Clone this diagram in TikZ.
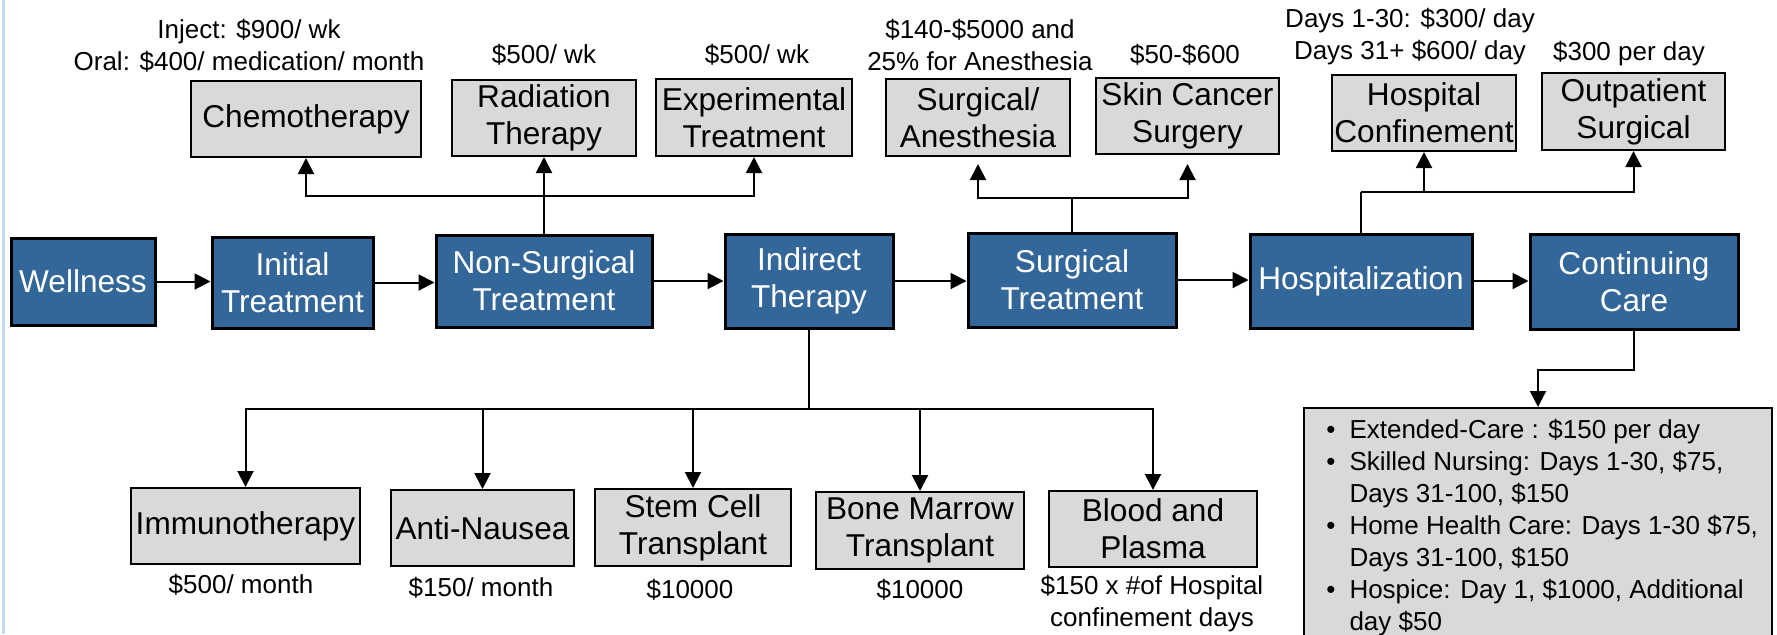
\documentclass[tikz,border=0pt]{standalone}
\usepackage{fontspec}
\setmainfont{Liberation Sans}
\usetikzlibrary{arrows.meta}
\definecolor{stageblue}{RGB}{51,102,153}
\definecolor{optgray}{RGB}{217,217,217}
\definecolor{slideblue}{RGB}{197,217,241}
\newcommand{\boxtext}{\fontsize{15.8pt}{18.5pt}\selectfont}
\newcommand{\costtext}{\fontsize{13pt}{16pt}\selectfont}
\tikzstyle{stage}=[rectangle, fill=stageblue, draw=black, line width=1.5pt, text=white, inner sep=0pt, align=center, font=\boxtext, anchor=center]
\tikzstyle{option}=[rectangle, fill=optgray, draw=black, line width=1pt, inner sep=0pt, align=center, font=\boxtext, anchor=center]
\tikzstyle{cost}=[align=center, font=\costtext, inner sep=0pt]
\tikzstyle{link}=[line width=1pt]
\tikzstyle{arrow}=[line width=1pt, -{Triangle[length=8pt, width=8pt]}]
\begin{document}
\begin{tikzpicture}[x=0.5pt, y=-0.5pt]
	\useasboundingbox (0,0) rectangle (1777,634);
	\draw[slideblue, line width=1.5pt] (3,0) -- (3,634);

	% main path
	\node[stage, minimum width=72pt, minimum height=43.5pt](wellness) at (83,281.5){Wellness};
	\node[stage, minimum width=80.5pt, minimum height=45.5pt](initial) at (292.5,282.5){Initial\\Treatment};
	\node[stage, minimum width=108pt, minimum height=46pt](nonsurg) at (544,281){Non-Surgical\\Treatment};
	\node[stage, minimum width=84pt, minimum height=47pt](indirect) at (809,281){Indirect\\Therapy};
	\node[stage, minimum width=104pt, minimum height=47pt](surgical) at (1072,280){Surgical\\Treatment};
	\node[stage, minimum width=111pt, minimum height=47pt](hospital) at (1361,281){Hospitalization};
	\node[stage, minimum width=104pt, minimum height=47.5pt](contcare) at (1634,281.5){Continuing\\Care};

	\draw[arrow] (wellness.east) -- (wellness.east -| initial.west);
	\draw[arrow] (initial.east) -- (initial.east -| nonsurg.west);
	\draw[arrow] (nonsurg.east) -- (nonsurg.east -| indirect.west);
	\draw[arrow] (indirect.east) -- (indirect.east -| surgical.west);
	\draw[arrow] (surgical.east) -- (surgical.east -| hospital.west);
	\draw[arrow] (hospital.east) -- (hospital.east -| contcare.west);

	% treatments above
	\node[option, minimum width=115pt, minimum height=38pt](chemo) at (306,119){Chemotherapy};
	\node[option, minimum width=92pt, minimum height=38pt](radiation) at (544,118){Radiation\\Therapy};
	\node[option, minimum width=98pt, minimum height=38.5pt](experimental) at (754,117.5){Experimental\\Treatment};
	\node[option, minimum width=92pt, minimum height=38.5pt](anesthesia) at (978,117.5){Surgical/\\Anesthesia};
	\node[option, minimum width=91.5pt, minimum height=38pt](skincancer) at (1187.5,116){Skin Cancer\\Surgery};
	\node[option, minimum width=92pt, minimum height=38pt](confinement) at (1424,113){Hospital\\Confinement};
	\node[option, minimum width=91.5pt, minimum height=38.5pt](outpatient) at (1633.5,111.5){Outpatient\\Surgical};

	\node[cost](chemocost) at (249,46){Inject: \$900/ wk\\Oral: \$400/ medication/ month};
	\node[cost](radcost) at (544,55){\$500/ wk};
	\node[cost](expcost) at (757,55){\$500/ wk};
	\node[cost](anescost) at (980,45){\$140-\$5000 and\\25\% for Anesthesia};
	\node[cost](skincost) at (1185,55){\$50-\$600};
	\node[cost](confcost) at (1410,37){Days 1-30: \$300/ day\\Days 31+ \$600/ day};
	\node[cost](outcost) at (1629,54){\$300 per day};

	\coordinate (nsjoin) at (544,196);
	\draw[arrow] (nonsurg.north) -- (radiation.south);
	\draw[arrow] (nsjoin) -| (chemo.south);
	\draw[arrow] (nsjoin) -| (experimental.south);

	\coordinate (sjoin) at (1072,198);
	\draw[link] (surgical.north) -- (sjoin);
	\draw[arrow, shorten >=3.5pt] (sjoin) -| (anesthesia.south);
	\draw[arrow, shorten >=4.5pt] (sjoin) -| (skincancer.south);

	\coordinate (hjoin) at (1361,192);
	\draw[link] (hospital.north) -- (hjoin);
	\draw[arrow] (hjoin) -| (confinement.south);
	\draw[arrow] (hjoin) -| (outpatient.south);

	% indirect therapies below
	\node[option, minimum width=114.5pt, minimum height=38pt](immuno) at (245.5,526){Immunotherapy};
	\node[option, minimum width=91.5pt, minimum height=38pt](nausea) at (482.5,528){Anti-Nausea};
	\node[option, minimum width=98pt, minimum height=38.5pt](stemcell) at (693,527.5){Stem Cell\\Transplant};
	\node[option, minimum width=104pt, minimum height=38.5pt](marrow) at (920,530.5){Bone Marrow\\Transplant};
	\node[option, minimum width=104pt, minimum height=38pt](blood) at (1153,529){Blood and\\Plasma};

	\node[cost](immunocost) at (241,585){\$500/ month};
	\node[cost](nauseacost) at (481,588){\$150/ month};
	\node[cost](stemcost) at (690,590){\$10000};
	\node[cost](marrowcost) at (920,590){\$10000};
	\node[cost](bloodcost) at (1152,604){\$150 x \#of Hospital\\confinement days};

	\coordinate (ijoin) at (809,409);
	\draw[link] (indirect.south) -- (ijoin);
	\draw[arrow] (ijoin) -| (immuno.north);
	\draw[arrow] (ijoin) -| (nausea.north);
	\draw[arrow] (ijoin) -| (stemcell.north);
	\draw[arrow] (ijoin) -| (marrow.north);
	\draw[arrow] (ijoin) -| (blood.north);

	% continuing care
	\node[option, minimum width=234pt, minimum height=122pt, anchor=north](carelist) at (1538,407){};
	\node[cost, anchor=north west, align=left](caretext) at (1326,416){%
		\begin{tabular}{@{}l@{\hspace{7pt}}l@{}}
		\textbullet & Extended-Care : \$150 per day\\
		\textbullet & Skilled Nursing: Days 1-30, \$75,\\
		 & Days 31-100, \$150\\
		\textbullet & Home Health Care: Days 1-30 \$75,\\
		 & Days 31-100, \$150\\
		\textbullet & Hospice: Day 1, \$1000, Additional\\
		 & day \$50
		\end{tabular}};
	\draw[arrow] (contcare.south) -- ++(0,39) -| (carelist.north);

\end{tikzpicture}
\end{document}
